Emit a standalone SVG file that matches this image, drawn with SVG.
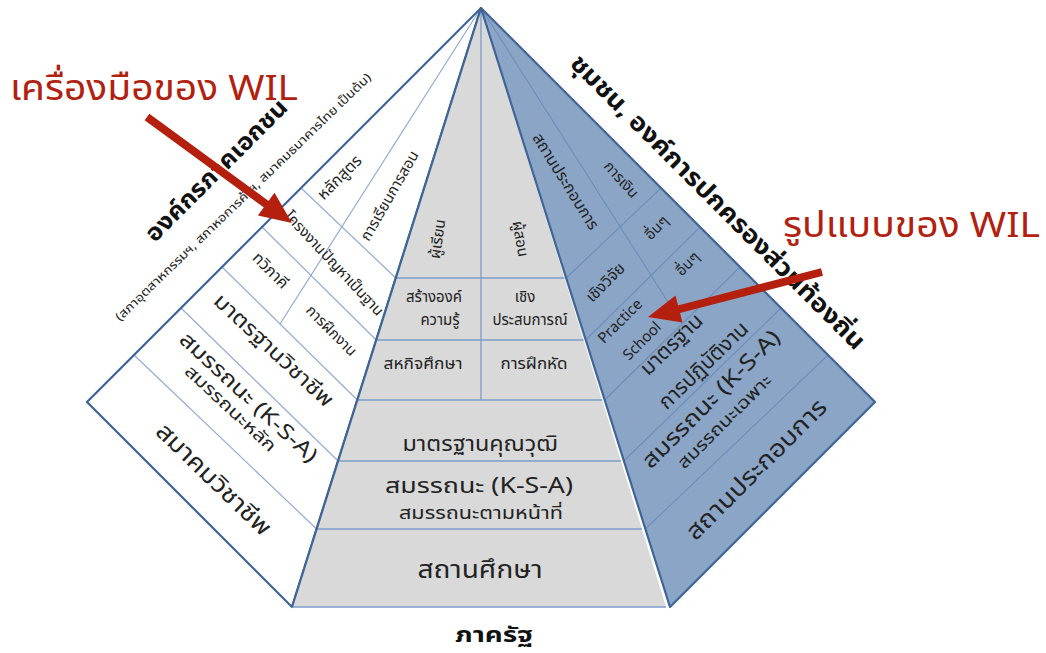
<svg xmlns="http://www.w3.org/2000/svg" width="1046" height="653" viewBox="0 0 1046 653">
<style>
text{font-family:'Noto Sans Thai','Noto Sans','DejaVu Sans',sans-serif;fill:#222;text-anchor:middle}
.b{font-weight:bold;fill:#111}
.edge{fill:none;stroke:#3f6496;stroke-width:2.2;stroke-linejoin:round}
.lw{stroke:#93abd3;stroke-width:1.2;fill:none}
.lg{stroke:#7b9bc8;stroke-width:1.3;fill:none}
.lb{stroke:#6d8dbb;stroke-width:1.1;fill:none}
.red{fill:#b2200f;text-anchor:start}
.arrow{stroke:#b51f0d;stroke-width:8;fill:none}
.head{fill:#b51f0d}
</style>
<rect width="1046" height="653" fill="#ffffff"/>

<g id="face-left">
<polygon points="481,8 87,402 292,607" fill="#ffffff"/>
<g class="lw">
<line x1="301" y1="188" x2="395.8" y2="278"/>
<line x1="262" y1="227" x2="376.2" y2="340"/>
<line x1="222" y1="267" x2="357.3" y2="400"/>
<line x1="181" y1="308" x2="338.1" y2="461"/>
<line x1="134" y1="355" x2="316.6" y2="529"/>
<line x1="481" y1="8" x2="280" y2="324"/>
</g>
<polygon class="edge" points="481,8 87,402 292,607"/>
<g id="cell-l-curriculum"><text transform="translate(340,178) rotate(-45)" y="4.5" font-size="16">หลักสูตร</text></g>
<g id="cell-l-teaching"><text transform="translate(390,196) rotate(-60)" y="4.5" font-size="15">การเรียนการสอน</text></g>
<g id="cell-l-project"><text transform="translate(305,233) rotate(47)" y="4.5" font-size="15">โครงงาน</text></g>
<g id="cell-l-pbl"><text transform="translate(352,283) rotate(47)" y="4.5" font-size="15">ปัญหาเป็นฐาน</text></g>
<g id="cell-l-dual"><text transform="translate(270,271) rotate(45)" y="4.5" font-size="16">ทวิภาคี</text></g>
<g id="cell-l-intern"><text transform="translate(331,331) rotate(45)" y="4.5" font-size="15">การฝึกงาน</text></g>
<g id="cell-l-profstd"><text transform="translate(273,351) rotate(43)" y="6" font-size="21" textLength="155" lengthAdjust="spacingAndGlyphs">มาตรฐานวิชาชีพ</text></g>
<g id="cell-l-comp">
<text transform="translate(248,398) rotate(43)" y="6" font-size="21" textLength="180" lengthAdjust="spacingAndGlyphs">สมรรถนะ (K-S-A)</text>
<text transform="translate(230,409) rotate(43)" y="5" font-size="17" textLength="118" lengthAdjust="spacingAndGlyphs">สมรรถนะหลัก</text>
</g>
<g id="cell-l-assoc"><text transform="translate(213,480) rotate(44)" y="7" font-size="24" textLength="150" lengthAdjust="spacingAndGlyphs">สมาคมวิชาชีพ</text></g>
<g id="title-left">
<text class="b" transform="translate(222,176) rotate(-45)" font-size="24" textLength="190" lengthAdjust="spacingAndGlyphs">องค์กรภาคเอกชน</text>
<text transform="translate(246,200) rotate(-44)" font-size="12" textLength="350" lengthAdjust="spacingAndGlyphs">(สภาอุตสาหกรรมฯ, สภาหอการค้าฯ, สมาคมธนาคารไทย เป็นต้น)</text>
</g>
</g>

<g id="face-center">
<polygon points="481,8 292,607 666,607" fill="#d9d9d9"/>
<g class="lg">
<line x1="481" y1="8" x2="481" y2="400"/>
<line x1="395.8" y1="278" x2="564.4" y2="278"/>
<line x1="376.2" y1="340" x2="583.5" y2="340"/>
<line x1="357.3" y1="400" x2="602.1" y2="400"/>
<line x1="338.1" y1="461" x2="620.9" y2="461"/>
<line x1="316.6" y1="529" x2="641.9" y2="529"/>
<line x1="292" y1="607" x2="666" y2="607"/>
</g>
<line class="edge" x1="481" y1="8" x2="292" y2="607"/>
<g id="cell-c-learner"><text transform="translate(438,239) rotate(-82)" y="4.5" font-size="15">ผู้เรียน</text></g>
<g id="cell-c-teacher"><text transform="translate(520,239) rotate(80)" y="4.5" font-size="15">ผู้สอน</text></g>
<g id="cell-c-constr"><text x="434" y="302" font-size="15">สร้างองค์</text><text x="440" y="325" font-size="15">ความรู้</text></g>
<g id="cell-c-exper"><text x="525" y="302" font-size="15">เชิง</text><text x="530" y="325" font-size="15">ประสบการณ์</text></g>
<g id="cell-c-coop"><text x="423" y="369" font-size="16" textLength="79" lengthAdjust="spacingAndGlyphs">สหกิจศึกษา</text></g>
<g id="cell-c-practice"><text x="534" y="369" font-size="16" textLength="67" lengthAdjust="spacingAndGlyphs">การฝึกหัด</text></g>
<g id="cell-c-qual"><text x="480" y="451" font-size="22" textLength="155" lengthAdjust="spacingAndGlyphs">มาตรฐานคุณวุฒิ</text></g>
<g id="cell-c-comp"><text x="479" y="493" font-size="21" textLength="188" lengthAdjust="spacingAndGlyphs">สมรรถนะ (K-S-A)</text><text x="481" y="519" font-size="17" textLength="164" lengthAdjust="spacingAndGlyphs">สมรรถนะตามหน้าที่</text></g>
<g id="cell-c-school"><text x="480" y="578" font-size="24" textLength="125" lengthAdjust="spacingAndGlyphs">สถานศึกษา</text></g>
<g id="title-bottom"><text class="b" x="494" y="642" font-size="22" textLength="78" lengthAdjust="spacingAndGlyphs">ภาครัฐ</text></g>
</g>

<g id="face-right">
<polygon points="481,8 875,402 670,607" fill="#8ba5c6"/>
<g class="lb">
<line x1="661" y1="188" x2="566.2" y2="278"/>
<line x1="700" y1="227" x2="585.8" y2="340"/>
<line x1="740" y1="267" x2="604.7" y2="400"/>
<line x1="781" y1="308" x2="623.9" y2="461"/>
<line x1="828" y1="355" x2="645.4" y2="529"/>
<line x1="481" y1="8" x2="682" y2="324"/>
</g>
<polygon class="edge" points="481,8 875,402 670,607"/>
<g id="cell-r-enterprise"><text transform="translate(565,182) rotate(58)" y="4.5" font-size="16">สถานประกอบการ</text></g>
<g id="cell-r-finance"><text transform="translate(621,180) rotate(48)" y="4.5" font-size="15">การเงิน</text></g>
<g id="cell-r-other1"><text transform="translate(657,228) rotate(-45)" y="4.5" font-size="15">อื่นๆ</text></g>
<g id="cell-r-other2"><text transform="translate(688,264) rotate(-45)" y="4.5" font-size="15">อื่นๆ</text></g>
<g id="cell-r-research"><text transform="translate(606,283) rotate(-45)" y="4.5" font-size="16">เชิงวิจัย</text></g>
<g id="cell-r-ps"><text transform="translate(620,321) rotate(-45)" y="5" font-size="15">Practice</text><text transform="translate(642,341) rotate(-45)" y="5" font-size="15">School</text></g>
<g id="cell-r-workstd"><text transform="translate(672,345) rotate(-44)" y="6" font-size="21">มาตรฐาน</text><text transform="translate(704,366) rotate(-44)" y="6" font-size="21">การปฏิบัติงาน</text></g>
<g id="cell-r-comp"><text transform="translate(712,400) rotate(-45)" y="6" font-size="22" textLength="185" lengthAdjust="spacingAndGlyphs">สมรรถนะ (K-S-A)</text><text transform="translate(725,422) rotate(-45)" y="5" font-size="17" textLength="125" lengthAdjust="spacingAndGlyphs">สมรรถนะเฉพาะ</text></g>
<g id="cell-r-workplace"><text transform="translate(757,470) rotate(-45)" y="7" font-size="24" textLength="188" lengthAdjust="spacingAndGlyphs">สถานประกอบการ</text></g>
<g id="title-right"><text class="b" transform="translate(712,208) rotate(45)" font-size="25" textLength="405" lengthAdjust="spacingAndGlyphs">ชุมชน, องค์การปกครองส่วนท้องถิ่น</text></g>
</g>

<g id="label-tools"><text class="red" x="10" y="100" font-size="35" textLength="288" lengthAdjust="spacingAndGlyphs">เครื่องมือของ WIL</text></g>
<g id="label-models"><text class="red" x="783" y="237" font-size="35" textLength="257" lengthAdjust="spacingAndGlyphs">รูปแบบของ WIL</text></g>

<g id="connectors">
<line class="arrow" x1="147" y1="117" x2="270" y2="207"/>
<polygon class="head" points="292,223 257.9,215.4 274.5,192.8"/>
<line class="arrow" x1="822" y1="272" x2="676" y2="310"/>
<polygon class="head" points="648,317 675.5,295.4 682.5,322.6"/>
</g>
</svg>
